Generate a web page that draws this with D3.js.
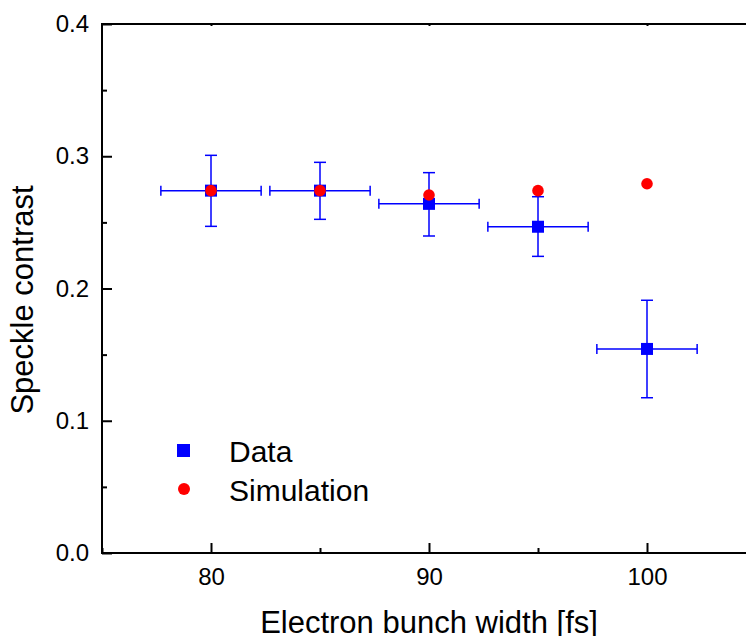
<!DOCTYPE html>
<html>
<head>
<meta charset="utf-8">
<script src="https://cdn.jsdelivr.net/npm/d3@7"></script>
<style>
  body { margin: 0; background: #fff; }
  svg { display: block; }
  text { font-family: "Liberation Sans", Arial, sans-serif; fill: #000; }
</style>
</head>
<body>
<svg id="chart" width="746" height="636"></svg>
<script>
// values
var widths = [80, 85, 90, 95, 100];
var dataContrast = [0.274, 0.274, 0.264, 0.2467, 0.1543];
var dataErrUp = [0.0267, 0.0214, 0.0236, 0.0227, 0.0368];
var dataErrDown = [0.027, 0.0217, 0.0243, 0.0224, 0.0369];
var widthErr = [2.3, 2.3, 2.3, 2.3, 2.3];
var simContrast = [0.274, 0.274, 0.2707, 0.274, 0.2792];

var xMajor = [80, 90, 100];
var xMinor = [75, 85, 95, 105];
var yMajor = [0, 0.1, 0.2, 0.3, 0.4];
var yMinor = [0.05, 0.15, 0.25, 0.35];

var svg = d3.select("#chart");

var plotLeft = 102, plotRight = 756, plotTop = 24, plotBottom = 553;

var x = d3.scaleLinear().domain([75, 105]).range([plotLeft, plotRight]);
var y = d3.scaleLinear().domain([0, 0.4]).range([plotBottom, plotTop]);

var blue = "#0000ff";
var red = "#ff0000";

//frame: left, bottom, top (right is off-page)
var frame = svg.append("g").attr("class", "frame");
frame.append("line")
    .attr("x1", plotLeft).attr("x2", plotLeft)
    .attr("y1", plotTop - 1).attr("y2", plotBottom + 1)
    .attr("stroke", "#000").attr("stroke-width", 2);
frame.append("line")
    .attr("x1", plotLeft - 1).attr("x2", plotRight)
    .attr("y1", plotBottom).attr("y2", plotBottom)
    .attr("stroke", "#000").attr("stroke-width", 2);
frame.append("line")
    .attr("x1", plotLeft - 1).attr("x2", plotRight)
    .attr("y1", plotTop).attr("y2", plotTop)
    .attr("stroke", "#000").attr("stroke-width", 2);

//bottom axis, ticks inward
var xAxis = d3.axisBottom(x).tickValues(xMajor).tickSize(-10).tickPadding(15)
    .tickFormat(d3.format("d"));
var gx = svg.append("g").attr("transform", "translate(0," + plotBottom + ")").call(xAxis);
gx.select(".domain").remove();
gx.selectAll(".tick line").attr("stroke", "#000").attr("stroke-width", 2);
gx.selectAll(".tick text").attr("font-size", 24).attr("font-family", "Liberation Sans, Arial, sans-serif");

var gxm = svg.append("g").attr("transform", "translate(0," + plotBottom + ")")
    .call(d3.axisBottom(x).tickValues(xMinor).tickSize(-5).tickFormat(""));
gxm.select(".domain").remove();
gxm.selectAll(".tick line").attr("stroke", "#000").attr("stroke-width", 2);

//top axis small marks
var gt = svg.append("g").attr("transform", "translate(0," + plotTop + ")")
    .call(d3.axisTop(x).tickValues(xMajor).tickSize(-2).tickFormat(""));
gt.select(".domain").remove();
gt.selectAll(".tick line").attr("stroke", "#000").attr("stroke-width", 2);

//left axis
var yAxis = d3.axisLeft(y).tickValues(yMajor).tickSize(-10).tickPadding(13)
    .tickFormat(d3.format(".1f"));
var gy = svg.append("g").attr("transform", "translate(" + plotLeft + ",0)").call(yAxis);
gy.select(".domain").remove();
gy.selectAll(".tick line").attr("stroke", "#000").attr("stroke-width", 2);
gy.selectAll(".tick text").attr("font-size", 24).attr("font-family", "Liberation Sans, Arial, sans-serif");

var gym = svg.append("g").attr("transform", "translate(" + plotLeft + ",0)")
    .call(d3.axisLeft(y).tickValues(yMinor).tickSize(-5).tickFormat(""));
gym.select(".domain").remove();
gym.selectAll(".tick line").attr("stroke", "#000").attr("stroke-width", 2);

//axis titles
svg.append("text")
    .attr("x", (plotLeft + plotRight) / 2)
    .attr("y", 633)
    .attr("text-anchor", "middle")
    .attr("font-size", 31)
    .text("Electron bunch width [fs]");

svg.append("text")
    .attr("transform", "translate(33,300) rotate(-90)")
    .attr("text-anchor", "middle")
    .attr("font-size", 31)
    .text("Speckle contrast");

//error bars
var pts = widths.map(function (w, i) {
    return { w: w, v: dataContrast[i], up: dataErrUp[i], dn: dataErrDown[i], xe: widthErr[i], s: simContrast[i] };
});

var err = svg.append("g").attr("class", "errors")
    .attr("stroke", blue).attr("stroke-width", 1.5).attr("fill", "none");

var eb = err.selectAll(".eb").data(pts).enter().append("g").attr("class", "eb");
eb.append("line")
    .attr("x1", function (d) { return x(d.w); })
    .attr("x2", function (d) { return x(d.w); })
    .attr("y1", function (d) { return y(d.v + d.up); })
    .attr("y2", function (d) { return y(d.v - d.dn); });
eb.append("line")
    .attr("x1", function (d) { return x(d.w) - 6; })
    .attr("x2", function (d) { return x(d.w) + 6; })
    .attr("y1", function (d) { return y(d.v + d.up); })
    .attr("y2", function (d) { return y(d.v + d.up); });
eb.append("line")
    .attr("x1", function (d) { return x(d.w) - 6; })
    .attr("x2", function (d) { return x(d.w) + 6; })
    .attr("y1", function (d) { return y(d.v - d.dn); })
    .attr("y2", function (d) { return y(d.v - d.dn); });
eb.append("line")
    .attr("x1", function (d) { return x(d.w - d.xe); })
    .attr("x2", function (d) { return x(d.w + d.xe); })
    .attr("y1", function (d) { return y(d.v); })
    .attr("y2", function (d) { return y(d.v); });
eb.append("line")
    .attr("x1", function (d) { return x(d.w - d.xe); })
    .attr("x2", function (d) { return x(d.w - d.xe); })
    .attr("y1", function (d) { return y(d.v) - 5; })
    .attr("y2", function (d) { return y(d.v) + 5; });
eb.append("line")
    .attr("x1", function (d) { return x(d.w + d.xe); })
    .attr("x2", function (d) { return x(d.w + d.xe); })
    .attr("y1", function (d) { return y(d.v) - 5; })
    .attr("y2", function (d) { return y(d.v) + 5; });

//data squares
var sq = 12;
svg.selectAll(".dataPt").data(pts).enter().append("rect")
    .attr("class", "dataPt")
    .attr("x", function (d) { return x(d.w) - sq / 2; })
    .attr("y", function (d) { return y(d.v) - sq / 2; })
    .attr("width", sq).attr("height", sq)
    .attr("fill", blue);

//simulation dots
svg.selectAll(".simPt").data(pts).enter().append("circle")
    .attr("class", "simPt")
    .attr("cx", function (d) { return x(d.w); })
    .attr("cy", function (d) { return y(d.s); })
    .attr("r", 5.8)
    .attr("fill", red);

//legend
var legend = svg.append("g").attr("class", "legend");
legend.append("rect")
    .attr("x", 177).attr("y", 444).attr("width", 13).attr("height", 13)
    .attr("fill", blue);
legend.append("text").attr("x", 229).attr("y", 462).attr("font-size", 30).text("Data");
legend.append("circle")
    .attr("cx", 184).attr("cy", 489).attr("r", 6)
    .attr("fill", red);
legend.append("text").attr("x", 229).attr("y", 501).attr("font-size", 30).text("Simulation");
</script>
</body>
</html>
